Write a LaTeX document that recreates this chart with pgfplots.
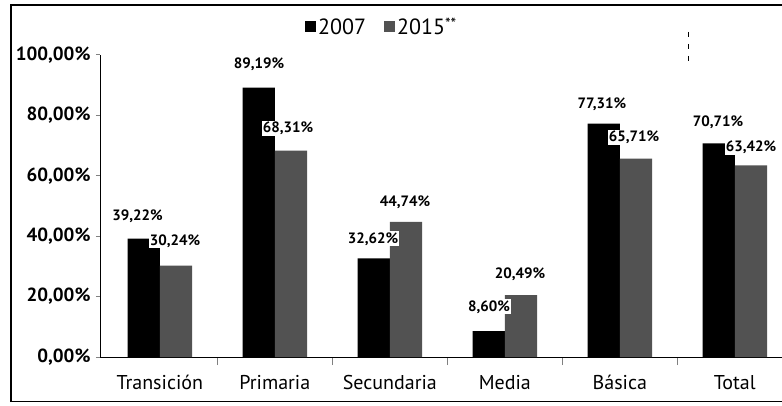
\documentclass[border=0pt]{standalone}
\usepackage{pgfplots}
\pgfplotsset{compat=1.18}
\usepackage{fontspec}
\setmainfont{PT Sans}
\pgfplotstableread{
x y
0 39.22
1 89.19
2 32.62
3 8.60
4 77.31
5 70.71
}\datasiete
\pgfplotstableread{
x y
0 30.24
1 68.31
2 44.74
3 20.49
4 65.71
5 63.42
}\datacinco
\pgfplotstableread{
lx ly v
-0.194 46.5 39.22
0.863 97.0 89.19
1.854 39.1 32.62
2.863 16.6 8.60
3.845 83.8 77.31
4.854 77.6 70.71
}\labsiete
\pgfplotstableread{
lx ly v
0.132 38.4 30.24
1.115 75.8 68.31
2.132 51.3 44.74
3.132 27.5 20.49
4.123 72.8 65.71
5.141 69.5 63.42
}\labcinco
\begin{document}
\begin{tikzpicture}
\useasboundingbox (0pt,0pt) rectangle (782pt,405pt);
\fill[white] (0pt,0pt) rectangle (782pt,405pt);
\draw[line width=1.2pt] (11pt,3pt) -- (11pt,400pt) -- (782pt,400pt);
\draw[line width=1pt] (11pt,3.5pt) -- (782pt,3.5pt);
\draw[line width=1pt, dash pattern=on 5pt off 7pt] (688pt,373pt) -- (688pt,338pt);
\begin{axis}[
  at={(100pt,48pt)}, anchor=south west, scale only axis,
  width=682pt, height=302pt,
  xmin=-0.52, xmax=5.41, ymin=0, ymax=100,
  axis x line*=bottom, axis y line*=left,
  axis line style={-, line width=1pt},
  xtick={0,1,2,3,4,5},
  xticklabels={Transición,Primaria,Secundaria,Media,Básica,Total},
  major x tick style={draw=none},
  minor xtick={0.5,1.5,2.5,3.5,4.5},
  minor tick style={line width=1pt},
  minor tick length=8pt,
  tick align=outside,
  major tick length=4pt,
  ytick={0,20,40,60,80,100},
  yticklabels={{0,00\%},{20,00\%},{40,00\%},{60,00\%},{80,00\%},{100,00\%}},
  y tick style={line width=1pt},
  yticklabel style={font=\bfseries\fontsize{19}{19}\selectfont, xshift=-2pt},
  xticklabel style={font=\fontsize{20}{20}\selectfont, yshift=-11pt},
  /pgf/number format/assume math mode=true,
  legend style={at={(0.413,1.092)}, anchor=center, draw=none, fill=none,
    legend columns=2, font=\fontsize{22}{22}\selectfont,
    /tikz/every even column/.append style={column sep=16pt}},
  legend image code/.code={\path[#1] (0pt,-5pt) rectangle (11pt,6pt);},
  clip=false,
]
\addplot[ybar, bar width=0.28, bar shift=-0.14, fill=black, draw=none] table[x=x,y=y] {\datasiete};
\addlegendentry{2007}
\addplot[ybar, bar width=0.28, bar shift=0.14, fill=black!68, draw=none] table[x=x,y=y] {\datacinco};
\addlegendentry{2015\raisebox{0.45ex}{\fontsize{16}{16}\selectfont **}}
\addplot[draw=none, mark=none, forget plot, point meta=explicit,
  nodes near coords={\pgfmathprintnumber[fixed,fixed zerofill,precision=2,use comma]{\pgfplotspointmeta}\%},
  every node near coord/.append style={anchor=center, fill=white, inner sep=1pt, font=\bfseries\fontsize{15}{15}\selectfont}]
  table[x=lx,y=ly,meta=v] {\labsiete};
\addplot[draw=none, mark=none, forget plot, point meta=explicit,
  nodes near coords={\pgfmathprintnumber[fixed,fixed zerofill,precision=2,use comma]{\pgfplotspointmeta}\%},
  every node near coord/.append style={anchor=center, fill=white, inner sep=1pt, font=\bfseries\fontsize{15}{15}\selectfont}]
  table[x=lx,y=ly,meta=v] {\labcinco};
\end{axis}
\end{tikzpicture}
\end{document}
